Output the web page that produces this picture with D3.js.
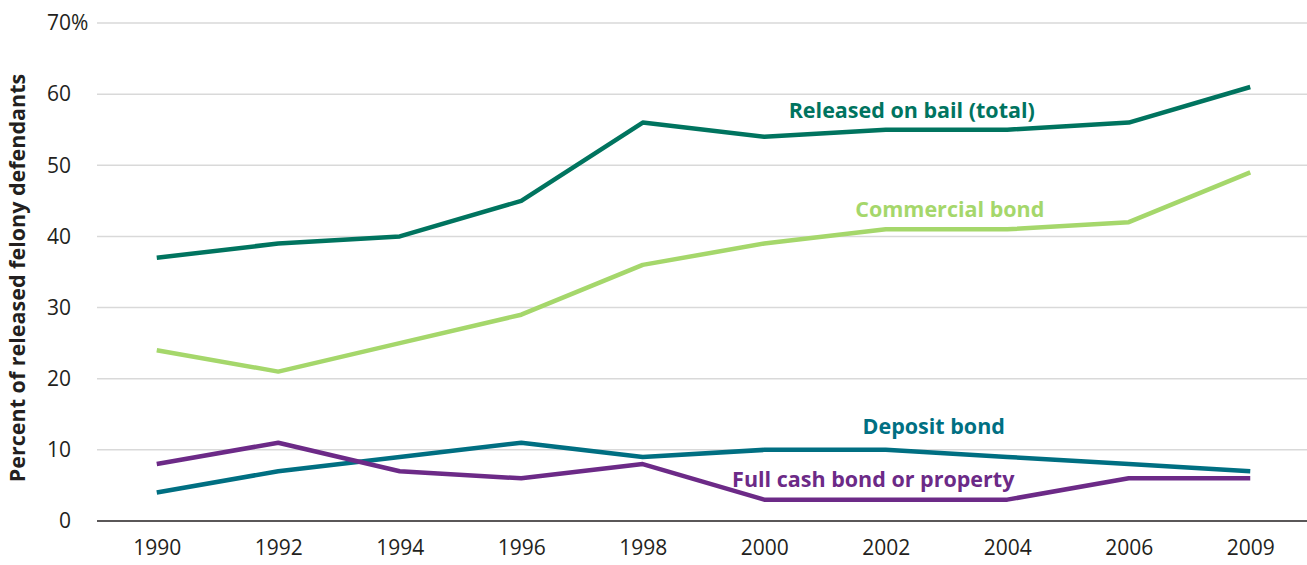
<!DOCTYPE html>
<html>
<head>
<meta charset="utf-8">
<script src="https://cdn.jsdelivr.net/npm/d3@7"></script>
<style>
  body { margin: 0; background: #fff; }
  svg text { font-family: "Open Sans", "Noto Sans", sans-serif; }
</style>
</head>
<body>
<div id="chart"></div>
<script>
var years = ["1990", "1992", "1994", "1996", "1998", "2000", "2002", "2004", "2006", "2009"];
var bailTotal = [37, 39, 40, 45, 56, 54, 55, 55, 56, 61];
var commercialBond = [24, 21, 25, 29, 36, 39, 41, 41, 42, 49];
var depositBond = [4, 7, 9, 11, 9, 10, 10, 9, 8, 7];
var fullCash = [8, 11, 7, 6, 8, 3, 3, 3, 6, 6];
var yTicks = [0, 10, 20, 30, 40, 50, 60, 70];

var seriesNames = ["Released on bail (total)", "Commercial bond", "Deposit bond", "Full cash bond or property"];
var seriesValues = [bailTotal, commercialBond, depositBond, fullCash];
var seriesColors = ["#00745f", "#a5d76b", "#006f82", "#6c2a87"];
// label anchor: year, value
var labelYears = ["2002", "2002", "2002", "2000"];
var labelVals = [56.7, 42.7, 12.2, 4.8];
var labelDx = [26, 64, 48, 109];

var width = 1307, height = 565;
var margin = { top: 23, right: 0, bottom: 44, left: 97 };

var x = d3.scalePoint()
  .domain(years)
  .range([96, 1311])
  .padding(0.5);

var y = d3.scaleLinear()
  .domain([0, 70])
  .range([height - margin.bottom, margin.top]);

var svg = d3.select('#chart').append('svg')
  .attr('width', width)
  .attr('height', height);

// gridlines
svg.append('g')
  .selectAll('line').data(yTicks.filter(function(d) { return d > 0; }))
  .enter().append('line')
    .attr('x1', margin.left)
    .attr('x2', width)
    .attr('y1', function(d) { return y(d); })
    .attr('y2', function(d) { return y(d); })
    .attr('stroke', '#d9d9d9')
    .attr('stroke-width', 1.5);

// zero line
svg.append('line')
  .attr('x1', margin.left)
  .attr('x2', width)
  .attr('y1', y(0))
  .attr('y2', y(0))
  .attr('stroke', '#231f20')
  .attr('stroke-width', 1.5);

// y tick labels
var yLab = svg.append('g');
yLab.selectAll('text').data(yTicks)
  .enter().append('text')
    .attr('x', 71)
    .attr('y', function(d) { return y(d); })
    .attr('dy', '0.35em')
    .attr('text-anchor', 'end')
    .attr('font-size', 21)
    .attr('fill', '#231f20')
    .text(function(d) { return d; });
yLab.append('text')
  .attr('x', 71)
  .attr('y', y(70))
  .attr('dy', '0.35em')
  .attr('font-size', 21)
  .attr('fill', '#231f20')
  .text('%');

// x tick labels
var xAxis = d3.axisBottom(x).tickSize(0).tickPadding(19);
var xg = svg.append('g')
  .attr('transform', 'translate(0,' + y(0) + ')')
  .call(xAxis);
xg.select('.domain').remove();
xg.selectAll('text')
  .attr('font-size', 21)
  .attr('fill', '#231f20')
  .style('font-family', '"Open Sans", "Noto Sans", sans-serif');

// y axis title
svg.append('text')
  .attr('transform', 'translate(25,' + 278 + ') rotate(-90)')
  .attr('text-anchor', 'middle')
  .attr('font-size', 21.5)
  .attr('font-weight', 'bold')
  .attr('fill', '#231f20')
  .text('Percent of released felony defendants');

// lines
var line = d3.line()
  .x(function(d, i) { return x(years[i]); })
  .y(function(d) { return y(d); });

svg.append('g')
  .selectAll('path').data(seriesValues)
  .enter().append('path')
    .attr('d', line)
    .attr('fill', 'none')
    .attr('stroke', function(d, i) { return seriesColors[i]; })
    .attr('stroke-width', 4.5)
    .attr('stroke-linejoin', 'round');

// series labels
svg.append('g')
  .selectAll('text').data(seriesNames)
  .enter().append('text')
    .attr('x', function(d, i) { return x(labelYears[i]) + labelDx[i]; })
    .attr('y', function(d, i) { return y(labelVals[i]); })
    .attr('text-anchor', 'middle')
    .attr('font-size', 21.5)
    .attr('font-weight', 'bold')
    .attr('fill', function(d, i) { return seriesColors[i]; })
    .text(function(d) { return d; });
</script>
</body>
</html>
